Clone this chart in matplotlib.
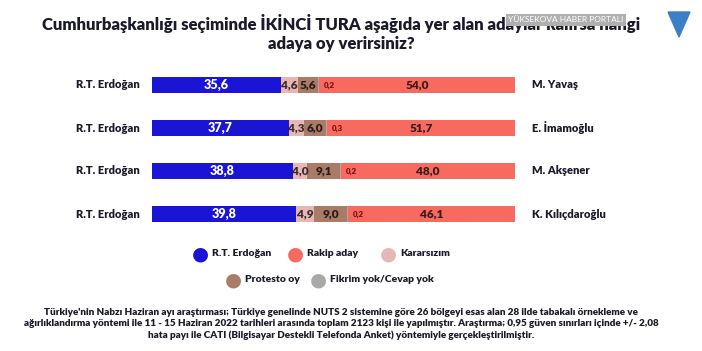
import matplotlib.pyplot as plt
import numpy as np

plt.rcParams['font.family'] = ['Lato', 'DejaVu Sans']

left_names = ['R.T. Erdoğan', 'R.T. Erdoğan', 'R.T. Erdoğan', 'R.T. Erdoğan']
right_names = ['M. Yavaş', 'E. İmamoğlu', 'M. Akşener', 'K. Kılıçdaroğlu']
erdogan = [35.6, 37.7, 38.8, 39.8]
kararsiz = [4.6, 4.3, 4.0, 4.9]
protesto = [5.6, 6.0, 9.1, 9.0]
fikrim = [0.2, 0.3, 0.2, 0.2]
rakip = [54.0, 51.7, 48.0, 46.1]

c_blue = '#1a14d4'
c_red = '#f66a5f'
c_pink = '#e5b8b6'
c_brown = '#a87c66'
c_gray = '#a9a9a9'

title = 'Cumhurbaşkanlığı seçiminde İKİNCİ TURA aşağıda yer alan adaylar kalırsa hangi\nadaya oy verirsiniz?'
note = ("Türkiye'nin Nabzı Haziran ayı araştırması; Türkiye genelinde NUTS 2 sistemine göre 26 bölgeyi esas alan 28 ilde tabakalı örnekleme ve\n"
        "ağırlıklandırma yöntemi ile 11 - 15 Haziran 2022 tarihleri arasında toplam 2123 kişi ile yapılmıştır. Araştırma; 0,95 güven sınırları içinde +/- 2,08\n"
        "hata payı ile CATI (Bilgisayar Destekli Telefonda Anket) yöntemiyle gerçekleştirilmiştir.")

fig = plt.figure(figsize=(7.02, 3.51), dpi=100)
W, H = 702, 351
ax = fig.add_axes([152 / W, (H - 235.5) / H, 363 / W, 172 / H])
ax.set_xlim(0, 100)
ax.set_ylim(3.5, -0.5)
ax.axis('off')

wt = 'heavy'
y = np.arange(4)
bh = 0.38
segs = [(erdogan, c_blue), (kararsiz, c_pink), (protesto, c_brown), (fikrim, c_gray), (rakip, c_red)]
left = np.zeros(4)
for vals, col in segs:
    ax.barh(y, vals, left=left, height=bh, color=col)
    left = left + np.array(vals)

def fmt(v):
    return f'{v:.1f}'.replace('.', ',')

for i in range(4):
    x0 = 0
    ax.text(erdogan[i] / 2, i, fmt(erdogan[i]), color='white', ha='center', va='center',
            fontsize=9, fontweight=wt)
    x0 += erdogan[i]
    ax.text(x0 + kararsiz[i] / 2, i, fmt(kararsiz[i]), color='#3a2a2a', ha='center', va='center',
            fontsize=8.5, fontweight=wt)
    x0 += kararsiz[i]
    ax.text(x0 + protesto[i] / 2, i, fmt(protesto[i]), color='#2a1a1a', ha='center', va='center',
            fontsize=8.5, fontweight=wt)
    x0 += protesto[i] + fikrim[i]
    ax.text(x0 + 1.3, i, fmt(fikrim[i]), color='#7a1010', ha='left', va='center',
            fontsize=5.8, fontweight=wt)
    ax.text(x0 + rakip[i] / 2, i, fmt(rakip[i]), color='#3a1a1a', ha='center', va='center',
            fontsize=8.5, fontweight=wt)
    ax.text(-3.3, i, left_names[i], ha='right', va='center', fontsize=8, fontweight=wt, color='#1a1a2a')
    ax.text(104.7, i, right_names[i], ha='left', va='center', fontsize=8, fontweight=wt, color='#1a1a2a')

fig.text(341 / W, 1 - 33 / H, title, ha='center', va='center', fontsize=12, fontweight=wt,
         color='#1a1a2a', linespacing=1.2)

# watermark (overlaps the title in the original too)
fig.text(566 / W, 1 - 20 / H, 'YÜKSEKOVA HABER PORTALI', ha='center', va='center', fontsize=6,
         color='white', bbox=dict(facecolor='#b0b0b0', edgecolor='none', pad=1.5), zorder=5)
fig.patches.append(plt.Polygon([[668 / W, 1 - 12 / H], [690 / W, 1 - 12 / H], [679 / W, 1 - 37 / H]],
                               closed=True, transform=fig.transFigure, color='#3a7fc8'))

# legend
leg_items = [('R.T. Erdoğan', c_blue, 200, 254), ('Rakip aday', c_red, 295, 254),
             ('Kararsızım', c_pink, 388, 254), ('Protesto oy', c_brown, 233, 280),
             ('Fikrim yok/Cevap yok', c_gray, 318, 280)]
for lab, col, px, py in leg_items:
    fig.text(px / W, 1 - py / H, '●', color=col, fontsize=14, ha='center', va='center', family='DejaVu Sans')
    fig.text((px + 12) / W, 1 - py / H, lab, fontsize=7.5, fontweight=wt, ha='left', va='center', color='#1a1a2a')

fig.text(341 / W, 1 - 324 / H, note, ha='center', va='center', fontsize=7.1, fontweight=wt,
         color='#1a1a2a', linespacing=1.3)

fig.savefig('out.png', dpi=100, facecolor='white')
